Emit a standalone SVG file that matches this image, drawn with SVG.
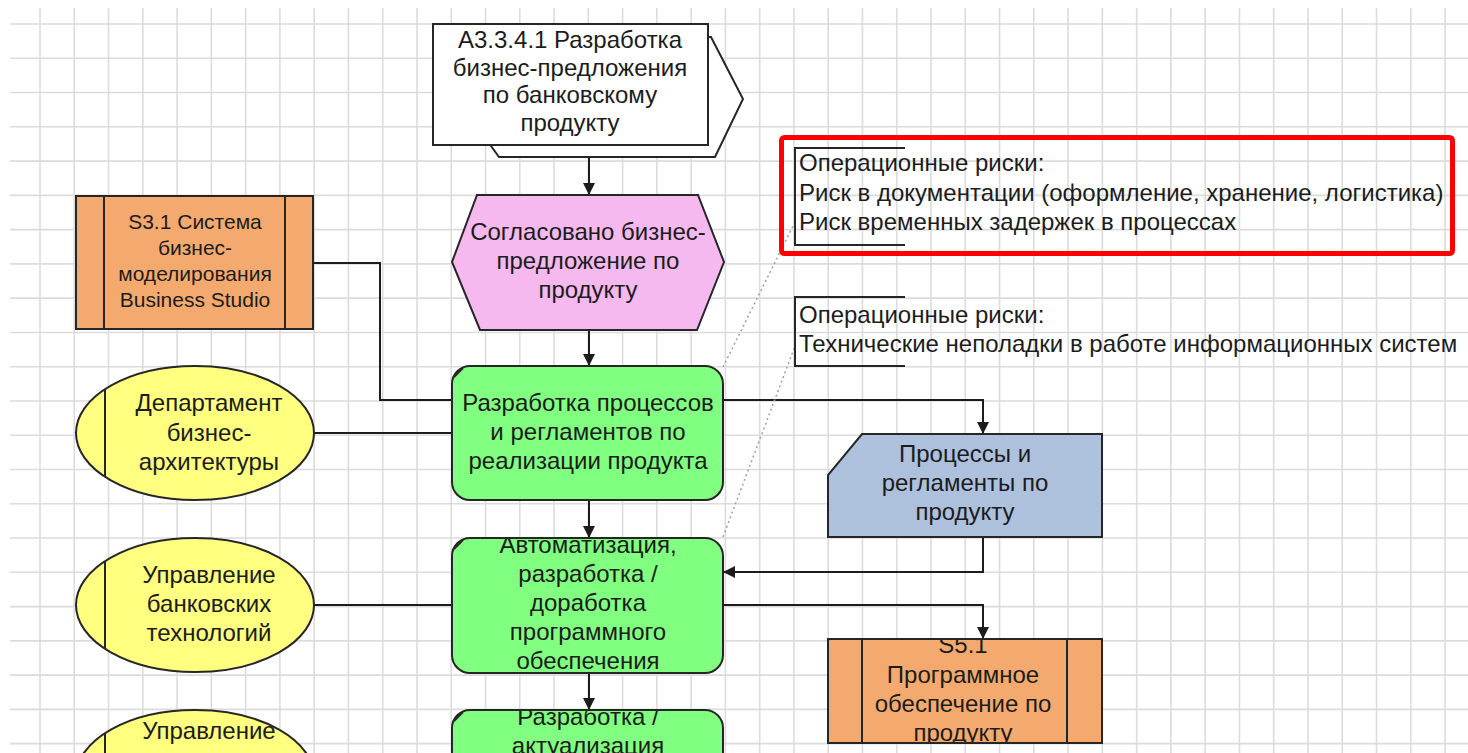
<svg xmlns="http://www.w3.org/2000/svg" width="1468" height="753" viewBox="0 0 1468 753">
<style>
  .grid{stroke:#dcdcdc;stroke-width:1.6;fill:none}
  .shape{stroke:#262626;stroke-width:2}
  .t{font-family:"Liberation Sans",Arial,sans-serif;font-size:24px;fill:#1c1c1c;text-anchor:middle}
  .ts{font-size:21px}
  .tl{text-anchor:start}
  .conn{stroke:#1c1c1c;stroke-width:2;fill:none}
  .dot{stroke:#a0a0a0;stroke-width:1.5;fill:none;stroke-dasharray:2 3}
  .green{fill:#80ff80}
  .yellow{fill:#ffff80}
  .orange{fill:#f4aa6e}
  .pink{fill:#f5b9ef}
  .blue{fill:#adc0dc}
  .bracket{stroke:#262626;stroke-width:2;fill:none}
</style>
<defs>
  <marker id="arr" viewBox="0 0 12 12" refX="12" refY="6" markerWidth="12" markerHeight="12" markerUnits="userSpaceOnUse" orient="auto">
    <path d="M0,0 L12,6 L0,12 z" fill="#1c1c1c"/>
  </marker>
  <clipPath id="clipB2"><rect x="453" y="539" width="269" height="133"/></clipPath>
  <clipPath id="clipB3"><rect x="453" y="711" width="269" height="60"/></clipPath>
  <clipPath id="clipS5"><rect x="829" y="640" width="272" height="102"/></clipPath>
</defs>
<rect width="1468" height="753" fill="#ffffff"/>
<g id="grid">
  <path class="grid" d="M40,8V753M74.27,8V753M108.54,8V753M142.81,8V753M177.08,8V753M211.35,8V753M245.62,8V753M279.89,8V753M314.16,8V753M348.43,8V753M382.7,8V753M416.97,8V753M451.24,8V753M485.51,8V753M519.78,8V753M554.05,8V753M588.32,8V753M622.59,8V753M656.86,8V753M691.13,8V753M725.4,8V753M759.67,8V753M793.94,8V753M828.21,8V753M862.48,8V753M896.75,8V753M931.02,8V753M965.29,8V753M999.56,8V753M1033.83,8V753M1068.1,8V753M1102.37,8V753M1136.64,8V753M1170.91,8V753M1205.18,8V753M1239.45,8V753M1273.72,8V753M1307.99,8V753M1342.26,8V753M1376.53,8V753M1410.8,8V753M1445.07,8V753
  M10,24H1468M10,58.27H1468M10,92.54H1468M10,126.81H1468M10,161.08H1468M10,195.35H1468M10,229.62H1468M10,263.89H1468M10,298.16H1468M10,332.43H1468M10,366.7H1468M10,400.97H1468M10,435.24H1468M10,469.51H1468M10,503.78H1468M10,538.05H1468M10,572.32H1468M10,606.59H1468M10,640.86H1468M10,675.13H1468M10,709.4H1468M10,743.67H1468"/>
</g>

<g id="connectors">
  <path class="conn" d="M589,157V195" marker-end="url(#arr)"/>
  <path class="conn" d="M589,330V366" marker-end="url(#arr)"/>
  <path class="conn" d="M589,500V538" marker-end="url(#arr)"/>
  <path class="conn" d="M589,673V710" marker-end="url(#arr)"/>
  <path class="conn" d="M313,263H380V400H452"/>
  <path class="conn" d="M314,433H452"/>
  <path class="conn" d="M314,605H452"/>
  <path class="conn" d="M723,400H983V434" marker-end="url(#arr)"/>
  <path class="conn" d="M983,537V572H723" marker-end="url(#arr)"/>
  <path class="conn" d="M723,605H983V639" marker-end="url(#arr)"/>
  <path class="dot" d="M723,367L795,222"/>
  <path class="dot" d="M723,537L795,346"/>
</g>

<g id="node-a3341">
  <polygon class="shape" fill="#ffffff" points="491,37 711,37 743,99 715,157 499,157 491,146"/>
  <rect class="shape" fill="#ffffff" x="433" y="24" width="275" height="121"/>
  <text class="t" x="570" y="48">A3.3.4.1 Разработка</text>
  <text class="t" x="570" y="75.5">бизнес-предложения</text>
  <text class="t" x="570" y="103">по банковскому</text>
  <text class="t" x="570" y="130.5">продукту</text>
</g>

<g id="node-event">
  <polygon class="shape pink" points="477,195 698,195 724,262 697,330 480,330 452,262"/>
  <text class="t" x="588" y="239.5">Согласовано бизнес-</text>
  <text class="t" x="588" y="268.5">предложение по</text>
  <text class="t" x="588" y="297.5">продукту</text>
</g>

<g id="node-s31">
  <rect class="shape orange" x="76" y="196" width="237" height="133"/>
  <path class="shape" d="M104,196V329M285,196V329"/>
  <text class="t ts" x="195" y="228.5">S3.1 Система</text>
  <text class="t ts" x="195" y="254.5">бизнес-</text>
  <text class="t ts" x="195" y="280.5">моделирования</text>
  <text class="t ts" x="195" y="306.5">Business Studio</text>
</g>

<g id="node-dept1">
  <ellipse class="shape yellow" cx="195" cy="433" rx="119" ry="67"/>
  <path class="shape" d="M105,389V477"/>
  <text class="t" x="209" y="411">Департамент</text>
  <text class="t" x="209" y="441">бизнес-</text>
  <text class="t" x="209" y="470">архитектуры</text>
</g>

<g id="node-dept2">
  <ellipse class="shape yellow" cx="195" cy="605" rx="119" ry="67"/>
  <path class="shape" d="M105,561V649"/>
  <text class="t" x="209" y="583">Управление</text>
  <text class="t" x="209" y="612">банковских</text>
  <text class="t" x="209" y="641">технологий</text>
</g>

<g id="node-dept3">
  <ellipse class="shape yellow" cx="195" cy="777" rx="119" ry="67"/>
  <path class="shape" d="M105,733V821"/>
  <text class="t" x="209" y="739">Управление</text>
</g>

<g id="node-func1">
  <rect class="shape green" x="452" y="366" width="271" height="134" rx="18" ry="18"/>
  <path class="shape" d="M454,377L463,368" stroke-width="1.5"/>
  <text class="t" x="588" y="411">Разработка процессов</text>
  <text class="t" x="588" y="440">и регламентов по</text>
  <text class="t" x="588" y="469">реализации продукта</text>
</g>

<g id="node-func2">
  <rect class="shape green" x="452" y="538" width="271" height="135" rx="18" ry="18"/>
  <path class="shape" d="M454,549L463,540" stroke-width="1.5"/>
  <g clip-path="url(#clipB2)">
    <text class="t" x="588" y="553">Автоматизация,</text>
    <text class="t" x="588" y="582">разработка /</text>
    <text class="t" x="588" y="611">доработка</text>
    <text class="t" x="588" y="640">программного</text>
    <text class="t" x="588" y="669">обеспечения</text>
  </g>
</g>

<g id="node-func3">
  <rect class="shape green" x="452" y="710" width="271" height="100" rx="18" ry="18"/>
  <path class="shape" d="M454,721L463,712" stroke-width="1.5"/>
  <g clip-path="url(#clipB3)">
    <text class="t" x="588" y="725">Разработка /</text>
    <text class="t" x="588" y="754">актуализация</text>
  </g>
</g>

<g id="node-doc">
  <polygon class="shape blue" points="862,434 1102,434 1102,537 828,537 828,475"/>
  <text class="t" x="965" y="462">Процессы и</text>
  <text class="t" x="965" y="491">регламенты по</text>
  <text class="t" x="965" y="520">продукту</text>
</g>

<g id="node-s51">
  <rect class="shape orange" x="828" y="639" width="274" height="104"/>
  <path class="shape" d="M862,639V743M1067,639V743"/>
  <g clip-path="url(#clipS5)">
    <text class="t" x="963" y="653">S5.1</text>
    <text class="t" x="963" y="683">Программное</text>
    <text class="t" x="963" y="712">обеспечение по</text>
    <text class="t" x="963" y="741">продукту</text>
  </g>
</g>

<g id="risk1">
  <path class="bracket" d="M905,148H795V245H905"/>
  <text class="t tl" x="799" y="171">Операционные риски:</text>
  <text class="t tl" x="799" y="201">Риск в документации (оформление, хранение, логистика)</text>
  <text class="t tl" x="799" y="230">Риск временных задержек в процессах</text>
  <rect x="781.5" y="137.5" width="671" height="116" rx="3" ry="3" fill="none" stroke="#ff0000" stroke-width="5"/>
</g>

<g id="risk2">
  <path class="bracket" d="M905,297H795V366H905"/>
  <text class="t tl" x="799" y="323">Операционные риски:</text>
  <text class="t tl" x="799" y="352">Технические неполадки в работе информационных систем</text>
</g>
</svg>
